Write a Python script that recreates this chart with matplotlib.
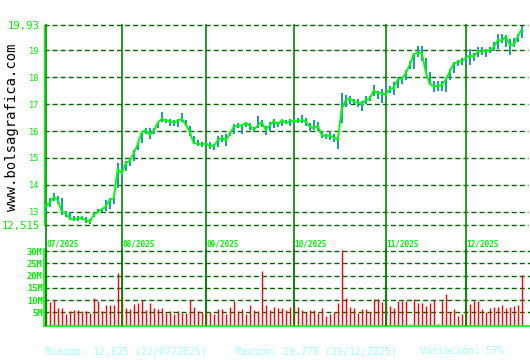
import matplotlib
matplotlib.use("Agg")
import matplotlib.pyplot as plt
import matplotlib.transforms as mtransforms
import numpy as np

# ---------------- data ----------------
close = [13.19, 13.35, 13.55, 13.44, 13.01, 12.95, 12.77, 12.70, 12.77, 12.77,
         12.70, 12.625, 12.89, 13.00, 13.10, 13.20, 13.44, 13.50, 14.60, 14.43,
         14.80, 14.90, 15.17, 15.50, 15.95, 16.05, 15.85, 16.00, 16.30, 16.45,
         16.38, 16.38, 16.30, 16.38, 16.45, 16.25, 15.97, 15.55, 15.53, 15.50,
         15.54, 15.44, 15.44, 15.66, 15.75, 15.65, 15.90, 16.15, 16.20, 16.20,
         16.30, 16.20, 16.05, 16.20, 16.33, 16.05, 16.20, 16.37, 16.25, 16.40,
         16.30, 16.35, 16.38, 16.35, 16.42, 16.35, 16.16, 16.10, 16.20, 15.85,
         15.80, 15.85, 15.75, 15.68, 16.80, 17.15, 17.20, 17.10, 17.05, 17.00,
         17.15, 17.20, 17.50, 17.40, 17.40, 17.35, 17.55, 17.60, 17.90, 17.92,
         18.14, 18.45, 18.85, 18.90, 18.90, 18.20, 17.75, 17.65, 17.68, 17.70,
         17.90, 18.20, 18.50, 18.55, 18.60, 18.70, 18.80, 18.75, 18.95, 18.95,
         18.97, 19.00, 19.10, 19.37, 19.35, 19.50, 19.20, 19.20, 19.50, 19.775]

high = [13.30, 13.50, 13.70, 13.60, 13.50, 13.05, 13.00, 12.85, 12.85, 12.85,
        12.80, 12.75, 13.00, 13.10, 13.15, 13.45, 13.50, 13.60, 14.80, 14.70,
        14.90, 15.00, 15.30, 15.60, 16.00, 16.10, 16.10, 16.10, 16.30, 16.70,
        16.45, 16.45, 16.40, 16.45, 16.65, 16.40, 16.20, 15.80, 15.65, 15.60,
        15.60, 15.60, 15.50, 15.80, 15.85, 15.90, 15.95, 16.25, 16.30, 16.25,
        16.35, 16.30, 16.15, 16.55, 16.40, 16.20, 16.35, 16.45, 16.35, 16.45,
        16.40, 16.45, 16.45, 16.50, 16.60, 16.50, 16.30, 16.40, 16.35, 16.00,
        15.90, 16.00, 15.90, 15.75, 17.40, 17.35, 17.30, 17.20, 17.20, 17.10,
        17.30, 17.30, 17.70, 17.50, 17.55, 17.80, 17.65, 17.80, 18.00, 18.00,
        18.25, 18.60, 18.90, 19.15, 19.15, 18.70, 18.20, 17.85, 17.85, 17.85,
        17.95, 18.30, 18.55, 18.65, 18.70, 18.75, 19.05, 18.90, 19.10, 19.10,
        19.05, 19.10, 19.30, 19.60, 19.60, 19.55, 19.40, 19.45, 19.60, 19.90]

low = [12.95, 13.20, 13.40, 13.30, 12.90, 12.80, 12.70, 12.65, 12.65, 12.70,
       12.60, 12.55, 12.80, 12.95, 13.00, 13.05, 13.10, 13.30, 13.90, 14.30,
       14.50, 14.70, 14.90, 15.30, 15.55, 15.90, 15.70, 15.90, 16.10, 16.35,
       16.30, 16.20, 16.20, 16.15, 16.35, 16.20, 15.80, 15.50, 15.45, 15.40,
       15.45, 15.35, 15.30, 15.40, 15.60, 15.45, 15.80, 15.90, 16.10, 15.90,
       16.15, 16.05, 15.95, 16.10, 16.15, 15.85, 16.00, 16.10, 16.15, 16.20,
       16.25, 16.20, 16.25, 16.30, 16.30, 16.20, 16.00, 16.05, 16.00, 15.75,
       15.70, 15.65, 15.60, 15.35, 16.30, 16.90, 17.00, 17.00, 16.90, 16.75,
       17.00, 17.10, 17.30, 17.20, 17.05, 17.25, 17.40, 17.35, 17.60, 17.75,
       17.90, 18.30, 18.30, 18.75, 18.60, 18.10, 17.70, 17.45, 17.50, 17.50,
       17.45, 17.90, 18.15, 18.40, 18.45, 18.50, 18.45, 18.60, 18.75, 18.80,
       18.75, 18.90, 18.95, 19.05, 19.25, 19.10, 18.80, 19.10, 19.30, 19.45]

volume = [5.6, 9.4, 10.0, 6.8, 6.8, 4.5, 5.6, 6.0, 6.0, 5.6,
          5.6, 4.7, 10.7, 9.6, 5.6, 8.1, 8.1, 8.1, 21.0, 11.5,
          6.8, 6.5, 8.5, 8.9, 9.9, 6.0, 8.9, 6.8, 6.5, 6.8,
          4.8, 5.6, 4.5, 5.6, 4.7, 4.7, 9.9, 7.3, 5.6, 5.3,
          5.5, 5.3, 4.5, 6.5, 6.5, 4.5, 7.0, 9.6, 5.6, 6.5,
          4.5, 8.1, 6.0, 5.6, 21.9, 8.0, 6.0, 7.3, 6.9, 6.9,
          6.0, 7.3, 8.0, 7.3, 6.0, 5.2, 6.0, 6.0, 4.8, 6.9,
          3.4, 4.2, 5.2, 8.9, 30.5, 10.9, 7.3, 6.9, 4.8, 6.5,
          6.5, 5.2, 10.5, 10.5, 9.3, 8.9, 7.7, 6.9, 9.7, 9.7,
          9.7, 0.3, 10.5, 8.9, 8.9, 7.7, 8.9, 10.1, 0.3, 9.7,
          12.5, 5.2, 6.5, 3.4, 4.2, 6.9, 8.5, 9.7, 9.7, 6.5,
          5.2, 6.9, 7.3, 7.3, 8.1, 6.9, 7.3, 7.7, 8.1, 20.3]

month_labels = ["07/2025", "08/2025", "09/2025", "10/2025", "11/2025", "12/2025"]
month_start_idx = [0, 19, 40, 62, 85, 105]

price_ticks = [12.515, 13, 14, 15, 16, 17, 18, 19, 19.93]
price_tick_labels = ["12,515", "13", "14", "15", "16", "17", "18", "19", "19,93"]
vol_ticks = [5, 10, 15, 20, 25, 30]
vol_tick_labels = ["5M", "10M", "15M", "20M", "25M", "30M"]

stats = ["Minimo: 12,625 (22/07/2025)", "Maximo: 19,775 (19/12/2025)", "Variación: 57%"]

# ---------------- style ----------------
W, H = 530, 360
BRIGHT = "#00ee00"
GRID = "#006400"
MONTH = "#008800"
TEAL = "#1a9aae"
LINE = "#00ff00"
RED = "#ff0000"
MONO = "DejaVu Sans Mono"
DASH = (0, (3.6, 2.2))

fig = plt.figure(figsize=(W / 100, H / 100), dpi=100, facecolor="white")

def px_axes(left, top, right, bottom):
    return fig.add_axes([left / W, 1 - bottom / H, (right - left) / W, (bottom - top) / H])

x = np.arange(len(close))
x0_px = 45.7
step = 4.0

# price axes
axp = px_axes(44, 25, 528, 225)
axp.set_facecolor("none")
axp.set_xlim((44 - x0_px) / step, (528 - x0_px) / step)
axp.set_ylim(12.515, 19.93)
for s in ["top", "right", "bottom"]:
    axp.spines[s].set_visible(False)
axp.spines["left"].set_color(LINE)
axp.spines["left"].set_linewidth(1.0)
axp.set_xticks([])
axp.set_yticks(price_ticks)
axp.set_yticklabels(price_tick_labels)
axp.tick_params(axis="y", length=0, pad=3, colors=BRIGHT)
for i, lab in enumerate(axp.get_yticklabels()):
    lab.set_family(MONO)
    if i in (0, len(price_ticks) - 1):
        lab.set_fontsize(7.6)
    else:
        lab.set_fontsize(6.2)
for v in price_ticks:
    axp.axhline(v, color=GRID, lw=1.0, ls=DASH, zorder=1, clip_on=False)

trans = mtransforms.blended_transform_factory(axp.transData, axp.transAxes)
for idx, lab in zip(month_start_idx, month_labels):
    axp.plot([idx, idx], [-0.505, 1.0], transform=trans, color=MONTH, lw=1.2,
             clip_on=False, zorder=1.5)
    axp.text(idx + 0.1, -0.095, lab, transform=trans, fontsize=5.6, family=MONO,
             fontweight="bold", color=BRIGHT, ha="left", va="center")

axp.vlines(x, low, high, color=TEAL, lw=1.4, zorder=2)
axp.plot(x, close, color=LINE, lw=1.4, zorder=3)

# volume axes
axv = px_axes(44, 248.8, 530, 326)
axv.set_facecolor("none")
axv.set_xlim((44 - x0_px) / step, (530 - x0_px) / step)
axv.set_ylim(-0.6, 31)
for s in ["top", "right"]:
    axv.spines[s].set_visible(False)
for s in ["left", "bottom"]:
    axv.spines[s].set_color(LINE)
    axv.spines[s].set_linewidth(1.2)
axv.set_xticks([])
axv.set_yticks(vol_ticks)
axv.set_yticklabels(vol_tick_labels)
axv.tick_params(axis="y", length=0, pad=1, colors=BRIGHT)
for lab in axv.get_yticklabels():
    lab.set_family(MONO)
    lab.set_fontsize(6.3)
    lab.set_fontweight("bold")
for v in vol_ticks:
    axv.axhline(v, color=GRID, lw=1.0, ls=DASH, zorder=1)
axv.vlines(x, 0, volume, color=RED, lw=1.0, zorder=2)
for idx in month_start_idx:
    axv.axvline(idx, color=MONTH, lw=1.2, zorder=3)

# side and bottom texts
fig.text(12 / W, 1 - 127 / H, "www.bolsagrafica.com", rotation=90, fontsize=10,
         family=MONO, color="black", ha="center", va="center")
for xpx, s in zip([45, 235, 420], stats):
    fig.text(xpx / W, 1 - 351 / H, s, fontsize=7.1, family=MONO, color="#a0ffff",
             ha="left", va="center")

fig.savefig("out.png", dpi=100, facecolor="white")
